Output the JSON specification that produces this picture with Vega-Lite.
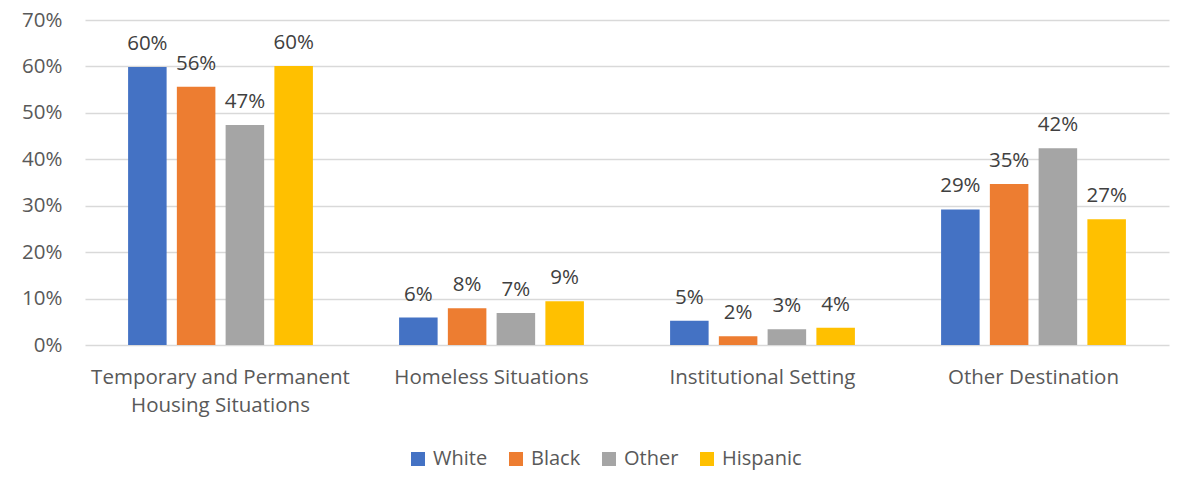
{
  "$schema": "https://vega.github.io/schema/vega-lite/v6.json",
  "autosize": "none",
  "width": 1084,
  "height": 325,
  "padding": {"left": 85, "top": 20, "right": 24, "bottom": 149},
  "background": "white",
  "config": {
    "view": {"stroke": null},
    "font": "Open Sans",
    "axis": {"labelFont": "Open Sans", "labelColor": "#595959", "labelFontSize": 20.5, "titleFontSize": 20},
    "legend": {"labelFont": "Open Sans", "labelColor": "#595959", "labelFontSize": 20}
  },
  "data": {
    "values": [
      {"destination": "Temporary and Permanent Housing Situations", "race": "White", "share": 0.599},
      {"destination": "Temporary and Permanent Housing Situations", "race": "Black", "share": 0.556},
      {"destination": "Temporary and Permanent Housing Situations", "race": "Other", "share": 0.474},
      {"destination": "Temporary and Permanent Housing Situations", "race": "Hispanic", "share": 0.601},
      {"destination": "Homeless Situations", "race": "White", "share": 0.059},
      {"destination": "Homeless Situations", "race": "Black", "share": 0.079},
      {"destination": "Homeless Situations", "race": "Other", "share": 0.069},
      {"destination": "Homeless Situations", "race": "Hispanic", "share": 0.094},
      {"destination": "Institutional Setting", "race": "White", "share": 0.052},
      {"destination": "Institutional Setting", "race": "Black", "share": 0.019},
      {"destination": "Institutional Setting", "race": "Other", "share": 0.034},
      {"destination": "Institutional Setting", "race": "Hispanic", "share": 0.037},
      {"destination": "Other Destination", "race": "White", "share": 0.292},
      {"destination": "Other Destination", "race": "Black", "share": 0.347},
      {"destination": "Other Destination", "race": "Other", "share": 0.424},
      {"destination": "Other Destination", "race": "Hispanic", "share": 0.271}
    ]
  },
  "encoding": {
    "x": {
      "field": "destination",
      "type": "nominal",
      "sort": null,
      "scale": {"paddingInner": 0.3, "paddingOuter": 0.15},
      "axis": {
        "title": null,
        "labelAngle": 0,
        "ticks": false,
        "domain": false,
        "labelLimit": 0,
        "labelPadding": 22,
        "labelLineHeight": 28,
        "labelExpr": "datum.value == 'Temporary and Permanent Housing Situations' ? ['Temporary and Permanent', 'Housing Situations'] : datum.value"
      }
    },
    "xOffset": {
      "field": "race",
      "type": "nominal",
      "sort": ["White", "Black", "Other", "Hispanic"],
      "scale": {"paddingInner": 0.21, "paddingOuter": 0.05}
    },
    "y": {
      "field": "share",
      "type": "quantitative",
      "scale": {"domain": [0, 0.7], "nice": false},
      "axis": {
        "title": null,
        "format": ".0%",
        "values": [0, 0.1, 0.2, 0.3, 0.4, 0.5, 0.6, 0.7],
        "ticks": false,
        "domain": false,
        "labelPadding": 23,
        "gridColor": "#D9D9D9",
        "gridWidth": 1.6
      }
    }
  },
  "layer": [
    {
      "mark": {"type": "bar"},
      "encoding": {
        "color": {
          "field": "race",
          "type": "nominal",
          "sort": ["White", "Black", "Other", "Hispanic"],
          "scale": {"domain": ["White", "Black", "Other", "Hispanic"], "range": ["#4472C4", "#ED7D31", "#A5A5A5", "#FFC000"]},
          "legend": {
            "title": null,
            "orient": "none",
            "direction": "horizontal",
            "legendX": 323,
            "legendY": 429,
            "symbolType": "square",
            "symbolSize": 196,
            "symbolStrokeWidth": 0,
            "symbolOpacity": 1,
            "labelOffset": 5,
            "columnPadding": 18
          }
        }
      }
    },
    {
      "mark": {"type": "text", "baseline": "alphabetic", "dy": -17, "fontSize": 20.5, "color": "#404040", "font": "Open Sans"},
      "encoding": {
        "text": {"field": "share", "type": "quantitative", "format": ".0%"}
      }
    }
  ]
}
